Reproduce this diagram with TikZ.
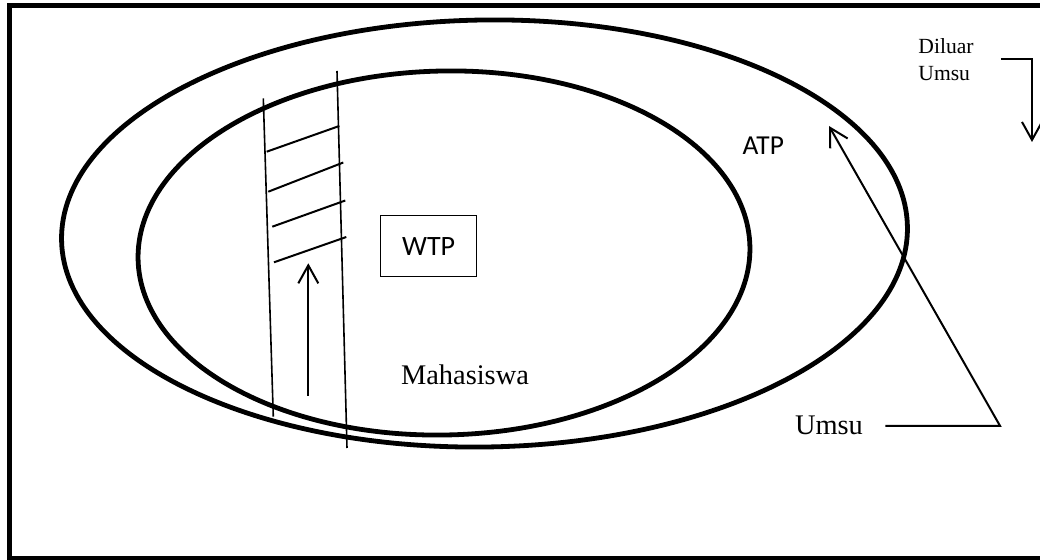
\documentclass[tikz,border=0pt]{standalone}
\usepackage{fontspec}
\setmainfont{Liberation Serif}
\newfontfamily\calibrilike{Carlito}
\usetikzlibrary{positioning,arrows.meta}
\tikzset{ring/.style={draw, line width=2.4pt}}
\tikzset{rail/.style={draw, line width=0.8pt}}
\tikzset{rung/.style={draw, line width=1pt}}
\tikzset{barb/.style={draw, line width=1pt, -{Straight Barb[length=9pt,width=10pt]}}}
\tikzset{lbl/.style={inner sep=0pt, font=\fontsize{14.2}{17}\selectfont}}
\tikzset{sanslbl/.style={inner sep=0pt, font=\calibrilike\fontsize{13.7}{16}\selectfont}}

\begin{document}
\begin{tikzpicture}[x=0.5pt, y=-0.5pt]
  \useasboundingbox (0,0) rectangle (1040,560);
  % frame
  \draw[line width=2.5pt] (9.8,5.8) rectangle (1050,558.5);
  % the two rings
  \draw[ring, rotate around={0.9:(484.5,233.5)}] (484.5,233.5)
     ellipse [x radius=423, y radius=213.5];
  \draw[ring, rotate around={1.2:(444,253)}] (444,253)
     ellipse [x radius=306, y radius=182];
  % ladder
  \draw[rail] (263.3,98.3) -- (273.3,416.7);
  \draw[rail] (337,71) -- (347,448);
  \foreach \xa/\ya/\xb/\yb in {266.7/151.7/339.3/126, 268.3/191.7/343.3/162.5,
      272.3/226.7/345.3/200.5, 274/262.3/346.3/237}
    \draw[rung] (\xa,\ya) -- (\xb,\yb);
  \coordinate (climbfoot) at (308.3,396);
  \coordinate (climbtop) at (308.3,263.3);
  \draw[barb] (climbfoot) -- (climbtop);

  \node[draw, line width=0.5pt, minimum width=48pt, minimum height=30.3pt,
     font=\calibrilike\fontsize{14}{17}\selectfont] (wtp) at (428.7,246.3) {WTP};
  \node[lbl, anchor=base] (mhs) at (465,385) {Mahasiswa};
  \node[sanslbl, anchor=base] (atp) at (763.3,155) {ATP};
  \node[lbl, anchor=base] (umsu) at (829,435) {Umsu};
  \node[inner sep=0pt, align=left, anchor=west,
     font=\fontsize{10.8}{13.5}\selectfont] (luar) at (918,59.3) {Diluar\\Umsu};

  \coordinate (umsubend) at (1000,0);
  \coordinate (atptip) at (829,126);
  \draw[barb, shorten <=11pt] (umsu.east) -- (umsu.east -| umsubend) -- (atptip);
  \coordinate (luarbend) at (1032,0);
  \coordinate (luartip) at (1032,142);
  \draw[barb, shorten <=13.5pt] (luar.east) -- (luar.east -| luarbend) -- (luartip);
\end{tikzpicture}
\end{document}
